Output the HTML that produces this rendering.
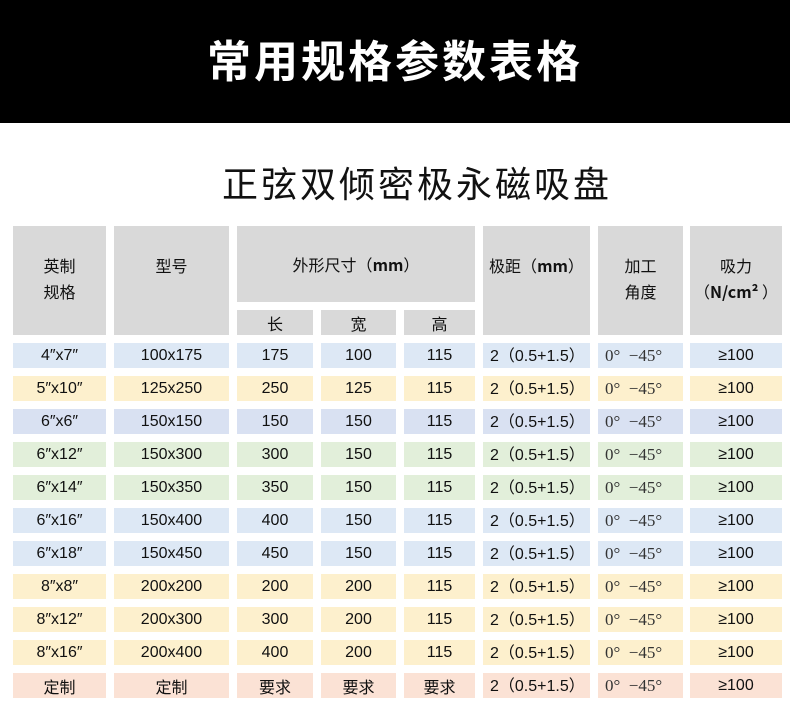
<!DOCTYPE html>
<html><head><meta charset="utf-8"><style>
body{margin:0;width:790px;height:715px;background:#fff;position:relative;overflow:hidden;font-family:"Liberation Sans","Noto Sans CJK SC",sans-serif;}
.top{position:absolute;left:0;top:0;width:790px;height:123px;background:#000;color:#fff;font-weight:bold;font-size:44px;text-align:center;line-height:116px;letter-spacing:3px;font-family:"Noto Sans CJK SC",sans-serif;}
.sub{position:absolute;left:22px;top:152px;width:790px;text-align:center;font-size:36px;line-height:60px;color:#111;font-family:"Noto Sans CJK SC",sans-serif;letter-spacing:3px;}
.c{position:absolute;display:flex;align-items:center;justify-content:center;font-size:16px;color:#111;text-align:center;font-family:"Liberation Sans","Noto Sans CJK SC",sans-serif;}
.h{background:#d9d9d9;font-size:16px;line-height:26px;font-family:"Noto Sans CJK SC",sans-serif;}
.l{justify-content:flex-start;padding-left:7px;box-sizing:border-box;}
.l span{margin-top:-3px;}
.s span{margin-top:1px;}
.s{font-family:"Liberation Serif","Noto Serif CJK SC",serif;color:#333;font-size:17px;}
</style></head><body>
<div class="top">常用规格参数表格</div>
<div class="sub">正弦双倾密极永磁吸盘</div>
<div id="t"></div>
<script>
const cols=[[13,93],[114,115],[237,76],[321,75],[404,71],[483,107],[598,85],[690,92]];
let h='';
function cell(x,y,w,hh,txt,cls,bg){h+=`<div class="c ${cls||''}" style="left:${x}px;top:${y}px;width:${w}px;height:${hh}px;${bg?'background:'+bg:''}">${txt}</div>`;}
cell(13,226,93,109,'<div style="margin-top:-6px">英制<br>规格</div>','h');
cell(114,226,115,109,'<div style="margin-top:-32px">型号</div>','h');
cell(237,226,238,76,'外形尺寸（<b>mm</b>）','h');
cell(237,310,76,25,'长','h');cell(321,310,75,25,'宽','h');cell(404,310,71,25,'高','h');
cell(483,226,107,109,'<div style="margin-top:-32px">极距（<b>mm</b>）</div>','h');
cell(598,226,85,109,'<div style="margin-top:-6px">加工<br>角度</div>','h');
cell(690,226,92,109,'<div style="margin-top:-6px">吸力<br>（<b>N/cm²</b> ）</div>','h');
const B='#dde8f5',Y='#fdf0cd',P='#d9e1f2',G='#e2efda',R='#fbe2d5';
const rows=[['4″x7″','100x175','175','100',B],['5″x10″','125x250','250','125',Y],['6″x6″','150x150','150','150',P],['6″x12″','150x300','300','150',G],['6″x14″','150x350','350','150',G],['6″x16″','150x400','400','150',B],['6″x18″','150x450','450','150',B],['8″x8″','200x200','200','200',Y],['8″x12″','200x300','300','200',Y],['8″x16″','200x400','400','200',Y],['定制','定制','要求','要求',R]];
rows.forEach((r,i)=>{const y=343+i*33;const last=i==10;
const v=[r[0],r[1],r[2],r[3],last?'要求':'115','<span>2（0.5+1.5）</span>','<span>0°&nbsp;&nbsp;−45°</span>','≥100'];
v.forEach((t,j)=>{let cls='';if(j==5)cls='l';if(j==6)cls='l s';cell(cols[j][0],y,cols[j][1],25,t,cls,r[4]);});});
document.getElementById('t').innerHTML=h;
</script>
</body></html>
